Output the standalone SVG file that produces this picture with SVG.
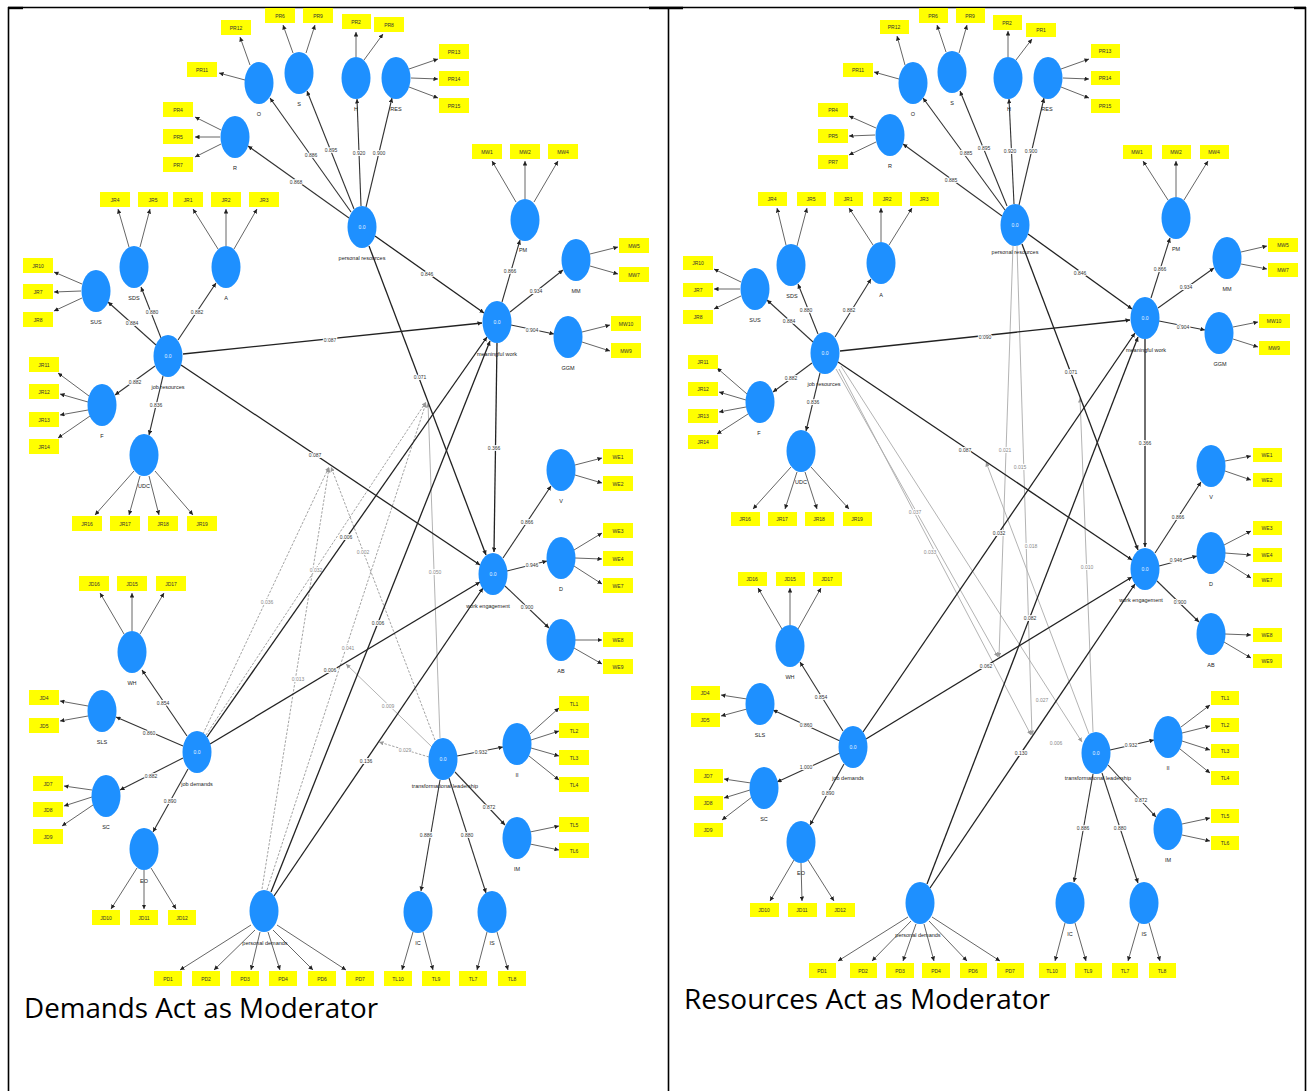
<svg xmlns="http://www.w3.org/2000/svg" width="1314" height="1091" viewBox="0 0 1314 1091">
<defs>
<marker id="a" viewBox="0 0 6 6" refX="6" refY="3" markerWidth="4.5" markerHeight="4.5" orient="auto" markerUnits="userSpaceOnUse"><path d="M0,0L6,3L0,6z" fill="#222"/></marker>
<marker id="g" viewBox="0 0 6 6" refX="6" refY="3" markerWidth="4.5" markerHeight="4.5" orient="auto" markerUnits="userSpaceOnUse"><path d="M0,0L6,3L0,6z" fill="#999"/></marker>
</defs>
<style>
.ib{fill:#ffff00}
.lv{fill:#1e90ff}
.tb{font-family:"Liberation Sans",Arial,sans-serif;font-size:5px;fill:#333;text-anchor:middle}
.tn{font-family:"Liberation Sans",Arial,sans-serif;font-size:5.5px;fill:#222;text-anchor:middle}
.tw{font-family:"Liberation Sans",Arial,sans-serif;font-size:5px;fill:#e8f4ff;text-anchor:middle}
.ei{stroke:#666;stroke-width:1;marker-end:url(#a)}
.es{stroke:#333;stroke-width:1.1;marker-end:url(#a)}
.eb{stroke:#222;stroke-width:1.3;marker-end:url(#a)}
.em{stroke:#999;stroke-width:0.9;stroke-dasharray:2.5 1.5;marker-end:url(#g)}
.eg{stroke:#aaa;stroke-width:0.9;marker-end:url(#g)}
.lb{font-family:"Liberation Sans",Arial,sans-serif;font-size:5px;fill:#333;text-anchor:middle;stroke:#fff;stroke-width:2;paint-order:stroke}
.lg{font-family:"Liberation Sans",Arial,sans-serif;font-size:5px;fill:#8a8a8a;text-anchor:middle;stroke:#fff;stroke-width:2;paint-order:stroke}
.cap{font-family:"Open Sans","Liberation Sans",sans-serif;font-size:27px;fill:#000}
.bd{stroke:#000;stroke-width:1.6;fill:none}
</style>
<rect width="1314" height="1091" fill="#fff"/>
<g id="table">
<line class="bd" x1="8" y1="7.5" x2="1306" y2="7.5"/>
<line class="bd" x1="8.5" y1="7" x2="8.5" y2="1091"/>
<line class="bd" x1="668.5" y1="7" x2="668.5" y2="1091"/>
<line class="bd" x1="1305.5" y1="7" x2="1305.5" y2="1091"/>
<line stroke="#000" stroke-width="2.4" x1="649" y1="8" x2="683" y2="8"/>
<line stroke="#000" stroke-width="2.4" x1="8" y1="8" x2="23" y2="8"/>
<line stroke="#000" stroke-width="2.4" x1="1294" y1="8" x2="1306" y2="8"/>
</g>
<text class="cap" x="24" y="1018" textLength="354" lengthAdjust="spacingAndGlyphs">Demands Act as Moderator</text>
<text class="cap" x="684" y="1009" textLength="366" lengthAdjust="spacingAndGlyphs">Resources Act as Moderator</text>

<!-- ================= LEFT PANEL CONNECTORS ================= -->
<g id="left-connectors">
<!-- moderation (grey) -->
<line class="em" x1="203" y1="734" x2="329" y2="467"/>
<line class="em" x1="262" y1="889" x2="329" y2="468"/>
<line class="em" x1="206" y1="735" x2="426" y2="402"/>
<line class="em" x1="267" y1="890" x2="426" y2="403"/>
<line class="em" x1="435" y1="740" x2="331" y2="467"/>
<line class="eg" x1="440" y1="738" x2="428" y2="403"/>
<line class="eg" x1="432" y1="747" x2="346" y2="664"/>
<line class="em" x1="429" y1="757" x2="379" y2="742"/>
<text class="lg" x="267" y="604">0.036</text>
<text class="lg" x="298" y="681">0.013</text>
<text class="lg" x="316" y="572">0.032</text>
<text class="lg" x="348" y="650">0.041</text>
<text class="lg" x="363" y="554">0.002</text>
<text class="lg" x="435" y="574">0.050</text>
<text class="lg" x="388" y="708">0.009</text>
<text class="lg" x="405" y="752">0.029</text>
<!-- structural -->
<line class="eb" x1="375" y1="236" x2="484" y2="313"/>
<line class="eb" x1="369" y1="246" x2="486" y2="555"/>
<line class="eb" x1="183" y1="354" x2="482" y2="323"/>
<line class="eb" x1="181" y1="365" x2="480" y2="565"/>
<line class="eb" x1="497" y1="343" x2="494" y2="552"/>
<line class="eb" x1="207" y1="737" x2="487" y2="337"/>
<line class="eb" x1="210" y1="744" x2="480" y2="582"/>
<line class="eb" x1="271" y1="892" x2="490" y2="341"/>
<line class="eb" x1="274" y1="896" x2="483" y2="588"/>
<text class="lb" x="427" y="276">0.846</text>
<text class="lb" x="420" y="379">0.071</text>
<text class="lb" x="330" y="342">0.087</text>
<text class="lb" x="315" y="457">0.087</text>
<text class="lb" x="494" y="450">0.366</text>
<text class="lb" x="346" y="539">0.006</text>
<text class="lb" x="330" y="672">0.006</text>
<text class="lb" x="378" y="625">0.006</text>
<text class="lb" x="366" y="763">0.136</text>
<!-- personal resources -->
<line class="es" x1="349" y1="218" x2="248" y2="146"/>
<line class="es" x1="351" y1="212" x2="270" y2="98"/>
<line class="es" x1="354" y1="209" x2="307" y2="91"/>
<line class="es" x1="361" y1="206" x2="357" y2="99"/>
<line class="es" x1="366" y1="207" x2="392" y2="98"/>
<text class="lb" x="296" y="184">0.868</text>
<text class="lb" x="311" y="157">0.886</text>
<text class="lb" x="331" y="152">0.895</text>
<text class="lb" x="359" y="155">0.920</text>
<text class="lb" x="379" y="155">0.900</text>
<line class="ei" x1="221" y1="130" x2="195" y2="117"/>
<line class="ei" x1="220" y1="137" x2="195" y2="137"/>
<line class="ei" x1="221" y1="144" x2="195" y2="157"/>
<line class="ei" x1="245" y1="80" x2="219" y2="73"/>
<line class="ei" x1="250" y1="65" x2="240" y2="37"/>
<line class="ei" x1="293" y1="53" x2="283" y2="25"/>
<line class="ei" x1="306" y1="53" x2="315" y2="25"/>
<line class="ei" x1="356" y1="57" x2="356" y2="32"/>
<line class="ei" x1="364" y1="60" x2="383" y2="34"/>
<line class="ei" x1="409" y1="69" x2="438" y2="59"/>
<line class="ei" x1="411" y1="78" x2="438" y2="79"/>
<line class="ei" x1="409" y1="87" x2="438" y2="98"/>
<!-- meaningful work -->
<line class="es" x1="502" y1="302" x2="520" y2="240"/>
<line class="es" x1="510" y1="312" x2="563" y2="270"/>
<line class="es" x1="511" y1="325" x2="554" y2="334"/>
<text class="lb" x="510" y="273">0.866</text>
<text class="lb" x="536" y="293">0.934</text>
<text class="lb" x="532" y="332">0.904</text>
<line class="ei" x1="516" y1="202" x2="492" y2="161"/>
<line class="ei" x1="525" y1="199" x2="525" y2="161"/>
<line class="ei" x1="534" y1="202" x2="558" y2="161"/>
<line class="ei" x1="590" y1="254" x2="618" y2="247"/>
<line class="ei" x1="590" y1="266" x2="618" y2="274"/>
<line class="ei" x1="582" y1="332" x2="610" y2="325"/>
<line class="ei" x1="582" y1="342" x2="610" y2="351"/>
<!-- work engagement -->
<line class="es" x1="503" y1="558" x2="551" y2="486"/>
<line class="es" x1="507" y1="571" x2="547" y2="561"/>
<line class="es" x1="505" y1="586" x2="549" y2="628"/>
<text class="lb" x="527" y="524">0.866</text>
<text class="lb" x="532" y="567">0.946</text>
<text class="lb" x="527" y="609">0.900</text>
<line class="ei" x1="575" y1="465" x2="602" y2="458"/>
<line class="ei" x1="575" y1="475" x2="602" y2="483"/>
<line class="ei" x1="574" y1="550" x2="602" y2="533"/>
<line class="ei" x1="575" y1="558" x2="602" y2="559"/>
<line class="ei" x1="574" y1="566" x2="602" y2="584"/>
<line class="ei" x1="575" y1="640" x2="602" y2="640"/>
<line class="ei" x1="574" y1="648" x2="602" y2="664"/>
<!-- job resources -->
<line class="es" x1="156" y1="345" x2="108" y2="302"/>
<line class="es" x1="161" y1="338" x2="141" y2="287"/>
<line class="es" x1="178" y1="340" x2="216" y2="283"/>
<line class="es" x1="155" y1="366" x2="115" y2="395"/>
<line class="es" x1="163" y1="376" x2="149" y2="435"/>
<text class="lb" x="132" y="325">0.884</text>
<text class="lb" x="152" y="314">0.880</text>
<text class="lb" x="197" y="314">0.882</text>
<text class="lb" x="135" y="384">0.882</text>
<text class="lb" x="156" y="407">0.836</text>
<line class="ei" x1="82" y1="284" x2="54" y2="272"/>
<line class="ei" x1="81" y1="291" x2="54" y2="292"/>
<line class="ei" x1="82" y1="298" x2="54" y2="311"/>
<line class="ei" x1="129" y1="247" x2="118" y2="209"/>
<line class="ei" x1="140" y1="247" x2="150" y2="209"/>
<line class="ei" x1="218" y1="249" x2="193" y2="209"/>
<line class="ei" x1="226" y1="246" x2="226" y2="209"/>
<line class="ei" x1="234" y1="249" x2="257" y2="209"/>
<line class="ei" x1="89" y1="396" x2="58" y2="373"/>
<line class="ei" x1="88" y1="402" x2="60" y2="394"/>
<line class="ei" x1="88" y1="410" x2="60" y2="415"/>
<line class="ei" x1="90" y1="416" x2="58" y2="438"/>
<line class="ei" x1="134" y1="471" x2="95" y2="515"/>
<line class="ei" x1="140" y1="476" x2="129" y2="515"/>
<line class="ei" x1="149" y1="476" x2="159" y2="515"/>
<line class="ei" x1="155" y1="471" x2="193" y2="515"/>
<!-- job demands -->
<line class="es" x1="187" y1="736" x2="142" y2="670"/>
<line class="es" x1="183" y1="746" x2="116" y2="717"/>
<line class="es" x1="183" y1="758" x2="120" y2="790"/>
<line class="es" x1="188" y1="769" x2="153" y2="832"/>
<text class="lb" x="163" y="705">0.854</text>
<text class="lb" x="149" y="735">0.860</text>
<text class="lb" x="151" y="778">0.882</text>
<text class="lb" x="170" y="803">0.890</text>
<line class="ei" x1="124" y1="634" x2="100" y2="593"/>
<line class="ei" x1="132" y1="631" x2="132" y2="593"/>
<line class="ei" x1="140" y1="634" x2="164" y2="593"/>
<line class="ei" x1="88" y1="706" x2="60" y2="701"/>
<line class="ei" x1="88" y1="716" x2="60" y2="721"/>
<line class="ei" x1="92" y1="790" x2="64" y2="786"/>
<line class="ei" x1="92" y1="797" x2="64" y2="806"/>
<line class="ei" x1="93" y1="805" x2="62" y2="826"/>
<line class="ei" x1="137" y1="868" x2="111" y2="909"/>
<line class="ei" x1="144" y1="870" x2="144" y2="909"/>
<line class="ei" x1="151" y1="868" x2="176" y2="909"/>
<!-- personal demands -->
<line class="ei" x1="251" y1="925" x2="180" y2="970"/>
<line class="ei" x1="255" y1="930" x2="214" y2="970"/>
<line class="ei" x1="260" y1="932" x2="251" y2="970"/>
<line class="ei" x1="268" y1="932" x2="280" y2="970"/>
<line class="ei" x1="273" y1="930" x2="313" y2="970"/>
<line class="ei" x1="277" y1="925" x2="346" y2="970"/>
<!-- transformational leadership -->
<line class="es" x1="457" y1="756" x2="503" y2="747"/>
<line class="es" x1="455" y1="772" x2="505" y2="825"/>
<line class="es" x1="440" y1="780" x2="421" y2="891"/>
<line class="es" x1="449" y1="778" x2="486" y2="893"/>
<text class="lb" x="481" y="754">0.932</text>
<text class="lb" x="489" y="809">0.872</text>
<text class="lb" x="426" y="837">0.886</text>
<text class="lb" x="467" y="837">0.880</text>
<line class="ei" x1="530" y1="734" x2="559" y2="708"/>
<line class="ei" x1="531" y1="740" x2="559" y2="731"/>
<line class="ei" x1="531" y1="748" x2="559" y2="756"/>
<line class="ei" x1="529" y1="756" x2="559" y2="780"/>
<line class="ei" x1="530" y1="832" x2="559" y2="826"/>
<line class="ei" x1="530" y1="844" x2="559" y2="850"/>
<line class="ei" x1="413" y1="932" x2="402" y2="970"/>
<line class="ei" x1="423" y1="932" x2="433" y2="970"/>
<line class="ei" x1="487" y1="932" x2="477" y2="970"/>
<line class="ei" x1="497" y1="932" x2="508" y2="970"/>
</g>

<!-- ================= LEFT PANEL NODES ================= -->
<g id="L-personal-resources"><ellipse class="lv" cx="362" cy="227" rx="14.5" ry="21"/><text class="tw" x="362" y="229">0.0</text><text class="tn" x="362" y="260">personal resources</text></g>
<g id="L-R"><ellipse class="lv" cx="235" cy="137" rx="14.5" ry="21"/><text class="tn" x="235" y="170">R</text></g>
<g id="L-O"><ellipse class="lv" cx="259" cy="83" rx="14.5" ry="21"/><text class="tn" x="259" y="116">O</text></g>
<g id="L-S"><ellipse class="lv" cx="299" cy="73" rx="14.5" ry="21"/><text class="tn" x="299" y="106">S</text></g>
<g id="L-H"><ellipse class="lv" cx="356" cy="78" rx="14.5" ry="21"/><text class="tn" x="356" y="111">H</text></g>
<g id="L-RES"><ellipse class="lv" cx="396" cy="78" rx="14.5" ry="21"/><text class="tn" x="396" y="111">RES</text></g>
<g id="L-meaningful-work"><ellipse class="lv" cx="497" cy="322" rx="14.5" ry="21"/><text class="tw" x="497" y="324">0.0</text><text class="tn" x="497" y="356">meaningful work</text></g>
<g id="L-PM"><ellipse class="lv" cx="525" cy="220" rx="14.5" ry="21"/><text class="tn" x="523" y="252">PM</text></g>
<g id="L-MM"><ellipse class="lv" cx="576" cy="260" rx="14.5" ry="21"/><text class="tn" x="576" y="293">MM</text></g>
<g id="L-GGM"><ellipse class="lv" cx="568" cy="337" rx="14.5" ry="21"/><text class="tn" x="568" y="370">GGM</text></g>
<g id="L-work-engagement"><ellipse class="lv" cx="493" cy="574" rx="14.5" ry="21"/><text class="tw" x="493" y="576">0.0</text><text class="tn" x="488" y="608">work engagement</text></g>
<g id="L-V"><ellipse class="lv" cx="561" cy="470" rx="14.5" ry="21"/><text class="tn" x="561" y="503">V</text></g>
<g id="L-D"><ellipse class="lv" cx="561" cy="558" rx="14.5" ry="21"/><text class="tn" x="561" y="591">D</text></g>
<g id="L-AB"><ellipse class="lv" cx="561" cy="640" rx="14.5" ry="21"/><text class="tn" x="561" y="673">AB</text></g>
<g id="L-job-resources"><ellipse class="lv" cx="168" cy="356" rx="14.5" ry="21"/><text class="tw" x="168" y="358">0.0</text><text class="tn" x="168" y="389">job resources</text></g>
<g id="L-SUS"><ellipse class="lv" cx="96" cy="291" rx="14.5" ry="21"/><text class="tn" x="96" y="324">SUS</text></g>
<g id="L-SDS"><ellipse class="lv" cx="134" cy="267" rx="14.5" ry="21"/><text class="tn" x="134" y="300">SDS</text></g>
<g id="L-A"><ellipse class="lv" cx="226" cy="267" rx="14.5" ry="21"/><text class="tn" x="226" y="300">A</text></g>
<g id="L-F"><ellipse class="lv" cx="102" cy="405" rx="14.5" ry="21"/><text class="tn" x="102" y="438">F</text></g>
<g id="L-UDC"><ellipse class="lv" cx="144" cy="455" rx="14.5" ry="21"/><text class="tn" x="144" y="488">UDC</text></g>
<g id="L-job-demands"><ellipse class="lv" cx="197" cy="752" rx="14.5" ry="21"/><text class="tw" x="197" y="754">0.0</text><text class="tn" x="197" y="786">job demands</text></g>
<g id="L-WH"><ellipse class="lv" cx="132" cy="652" rx="14.5" ry="21"/><text class="tn" x="132" y="685">WH</text></g>
<g id="L-SLS"><ellipse class="lv" cx="102" cy="711" rx="14.5" ry="21"/><text class="tn" x="102" y="744">SLS</text></g>
<g id="L-SC"><ellipse class="lv" cx="106" cy="796" rx="14.5" ry="21"/><text class="tn" x="106" y="829">SC</text></g>
<g id="L-EO"><ellipse class="lv" cx="144" cy="849" rx="14.5" ry="21"/><text class="tn" x="144" y="883">EO</text></g>
<g id="L-personal-demands"><ellipse class="lv" cx="264" cy="911" rx="14.5" ry="21"/><text class="tn" x="265" y="945">personal demands</text></g>
<g id="L-transformational-leadership"><ellipse class="lv" cx="443" cy="759" rx="14.5" ry="21"/><text class="tw" x="443" y="761">0.0</text><text class="tn" x="445" y="788">transformational leadership</text></g>
<g id="L-II"><ellipse class="lv" cx="517" cy="744" rx="14.5" ry="21"/><text class="tn" x="517" y="777">II</text></g>
<g id="L-IM"><ellipse class="lv" cx="517" cy="838" rx="14.5" ry="21"/><text class="tn" x="517" y="871">IM</text></g>
<g id="L-IC"><ellipse class="lv" cx="418" cy="912" rx="14.5" ry="21"/><text class="tn" x="418" y="945">IC</text></g>
<g id="L-IS"><ellipse class="lv" cx="492" cy="912" rx="14.5" ry="21"/><text class="tn" x="492" y="945">IS</text></g>

<!-- left indicators -->
<g id="L-PR4"><rect class="ib" x="163" y="102" width="30" height="15"/><text class="tb" x="178" y="111.5">PR4</text></g>
<g id="L-PR5"><rect class="ib" x="163" y="129" width="30" height="15"/><text class="tb" x="178" y="138.5">PR5</text></g>
<g id="L-PR7"><rect class="ib" x="163" y="157" width="30" height="15"/><text class="tb" x="178" y="166.5">PR7</text></g>
<g id="L-PR11"><rect class="ib" x="187" y="62" width="30" height="15"/><text class="tb" x="202" y="71.5">PR11</text></g>
<g id="L-PR12"><rect class="ib" x="221" y="20" width="30" height="15"/><text class="tb" x="236" y="29.5">PR12</text></g>
<g id="L-PR6"><rect class="ib" x="265" y="8" width="30" height="15"/><text class="tb" x="280" y="17.5">PR6</text></g>
<g id="L-PR9"><rect class="ib" x="303" y="8" width="30" height="15"/><text class="tb" x="318" y="17.5">PR9</text></g>
<g id="L-PR2"><rect class="ib" x="342" y="14" width="29" height="15"/><text class="tb" x="356" y="23.5">PR2</text></g>
<g id="L-PR8"><rect class="ib" x="374" y="17" width="30" height="15"/><text class="tb" x="389" y="26.5">PR8</text></g>
<g id="L-PR13"><rect class="ib" x="439" y="44" width="30" height="15"/><text class="tb" x="454" y="53.5">PR13</text></g>
<g id="L-PR14"><rect class="ib" x="439" y="71" width="30" height="15"/><text class="tb" x="454" y="80.5">PR14</text></g>
<g id="L-PR15"><rect class="ib" x="439" y="98" width="30" height="15"/><text class="tb" x="454" y="107.5">PR15</text></g>
<g id="L-MW1"><rect class="ib" x="472" y="144" width="30" height="15"/><text class="tb" x="487" y="153.5">MW1</text></g>
<g id="L-MW2"><rect class="ib" x="510" y="144" width="30" height="15"/><text class="tb" x="525" y="153.5">MW2</text></g>
<g id="L-MW4"><rect class="ib" x="548" y="144" width="30" height="15"/><text class="tb" x="563" y="153.5">MW4</text></g>
<g id="L-MW5"><rect class="ib" x="619" y="238" width="30" height="15"/><text class="tb" x="634" y="247.5">MW5</text></g>
<g id="L-MW7"><rect class="ib" x="619" y="267" width="30" height="15"/><text class="tb" x="634" y="276.5">MW7</text></g>
<g id="L-MW10"><rect class="ib" x="611" y="316" width="30" height="15"/><text class="tb" x="626" y="325.5">MW10</text></g>
<g id="L-MW9"><rect class="ib" x="611" y="343" width="30" height="15"/><text class="tb" x="626" y="352.5">MW9</text></g>
<g id="L-WE1"><rect class="ib" x="603" y="449" width="30" height="15"/><text class="tb" x="618" y="458.5">WE1</text></g>
<g id="L-WE2"><rect class="ib" x="603" y="476" width="30" height="15"/><text class="tb" x="618" y="485.5">WE2</text></g>
<g id="L-WE3"><rect class="ib" x="603" y="523" width="30" height="15"/><text class="tb" x="618" y="532.5">WE3</text></g>
<g id="L-WE4"><rect class="ib" x="603" y="551" width="30" height="15"/><text class="tb" x="618" y="560.5">WE4</text></g>
<g id="L-WE7"><rect class="ib" x="603" y="578" width="30" height="15"/><text class="tb" x="618" y="587.5">WE7</text></g>
<g id="L-WE8"><rect class="ib" x="603" y="632" width="30" height="15"/><text class="tb" x="618" y="641.5">WE8</text></g>
<g id="L-WE9"><rect class="ib" x="603" y="659" width="30" height="15"/><text class="tb" x="618" y="668.5">WE9</text></g>
<g id="L-JR10"><rect class="ib" x="23" y="258" width="30" height="15"/><text class="tb" x="38" y="267.5">JR10</text></g>
<g id="L-JR7"><rect class="ib" x="23" y="284" width="30" height="15"/><text class="tb" x="38" y="293.5">JR7</text></g>
<g id="L-JR8"><rect class="ib" x="23" y="312" width="30" height="15"/><text class="tb" x="38" y="321.5">JR8</text></g>
<g id="L-JR4"><rect class="ib" x="100" y="192" width="30" height="15"/><text class="tb" x="115" y="201.5">JR4</text></g>
<g id="L-JR5"><rect class="ib" x="138" y="192" width="30" height="15"/><text class="tb" x="153" y="201.5">JR5</text></g>
<g id="L-JR1"><rect class="ib" x="173" y="192" width="30" height="15"/><text class="tb" x="188" y="201.5">JR1</text></g>
<g id="L-JR2"><rect class="ib" x="211" y="192" width="30" height="15"/><text class="tb" x="226" y="201.5">JR2</text></g>
<g id="L-JR3"><rect class="ib" x="249" y="192" width="30" height="15"/><text class="tb" x="264" y="201.5">JR3</text></g>
<g id="L-JR11"><rect class="ib" x="29" y="357" width="30" height="15"/><text class="tb" x="44" y="366.5">JR11</text></g>
<g id="L-JR12"><rect class="ib" x="29" y="384" width="30" height="15"/><text class="tb" x="44" y="393.5">JR12</text></g>
<g id="L-JR13"><rect class="ib" x="29" y="412" width="30" height="15"/><text class="tb" x="44" y="421.5">JR13</text></g>
<g id="L-JR14"><rect class="ib" x="29" y="439" width="30" height="15"/><text class="tb" x="44" y="448.5">JR14</text></g>
<g id="L-JR16"><rect class="ib" x="72" y="516" width="30" height="15"/><text class="tb" x="87" y="525.5">JR16</text></g>
<g id="L-JR17"><rect class="ib" x="110" y="516" width="30" height="15"/><text class="tb" x="125" y="525.5">JR17</text></g>
<g id="L-JR18"><rect class="ib" x="148" y="516" width="30" height="15"/><text class="tb" x="163" y="525.5">JR18</text></g>
<g id="L-JR19"><rect class="ib" x="187" y="516" width="30" height="15"/><text class="tb" x="202" y="525.5">JR19</text></g>
<g id="L-JD16"><rect class="ib" x="79" y="576" width="30" height="15"/><text class="tb" x="94" y="585.5">JD16</text></g>
<g id="L-JD15"><rect class="ib" x="117" y="576" width="30" height="15"/><text class="tb" x="132" y="585.5">JD15</text></g>
<g id="L-JD17"><rect class="ib" x="156" y="576" width="30" height="15"/><text class="tb" x="171" y="585.5">JD17</text></g>
<g id="L-JD4"><rect class="ib" x="29" y="690" width="30" height="15"/><text class="tb" x="44" y="699.5">JD4</text></g>
<g id="L-JD5"><rect class="ib" x="29" y="718" width="30" height="15"/><text class="tb" x="44" y="727.5">JD5</text></g>
<g id="L-JD7"><rect class="ib" x="33" y="776" width="30" height="15"/><text class="tb" x="48" y="785.5">JD7</text></g>
<g id="L-JD8"><rect class="ib" x="33" y="802" width="30" height="15"/><text class="tb" x="48" y="811.5">JD8</text></g>
<g id="L-JD9"><rect class="ib" x="33" y="829" width="30" height="15"/><text class="tb" x="48" y="838.5">JD9</text></g>
<g id="L-JD10"><rect class="ib" x="92" y="910" width="28" height="15"/><text class="tb" x="106" y="919.5">JD10</text></g>
<g id="L-JD11"><rect class="ib" x="130" y="910" width="28" height="15"/><text class="tb" x="144" y="919.5">JD11</text></g>
<g id="L-JD12"><rect class="ib" x="168" y="910" width="28" height="15"/><text class="tb" x="182" y="919.5">JD12</text></g>
<g id="L-PD1"><rect class="ib" x="154" y="971" width="28" height="15"/><text class="tb" x="168" y="980.5">PD1</text></g>
<g id="L-PD2"><rect class="ib" x="192" y="971" width="28" height="15"/><text class="tb" x="206" y="980.5">PD2</text></g>
<g id="L-PD3"><rect class="ib" x="231" y="971" width="28" height="15"/><text class="tb" x="245" y="980.5">PD3</text></g>
<g id="L-PD4"><rect class="ib" x="269" y="971" width="28" height="15"/><text class="tb" x="283" y="980.5">PD4</text></g>
<g id="L-PD6"><rect class="ib" x="308" y="971" width="28" height="15"/><text class="tb" x="322" y="980.5">PD6</text></g>
<g id="L-PD7"><rect class="ib" x="346" y="971" width="28" height="15"/><text class="tb" x="360" y="980.5">PD7</text></g>
<g id="L-TL10"><rect class="ib" x="384" y="971" width="28" height="15"/><text class="tb" x="398" y="980.5">TL10</text></g>
<g id="L-TL9"><rect class="ib" x="422" y="971" width="28" height="15"/><text class="tb" x="436" y="980.5">TL9</text></g>
<g id="L-TL7"><rect class="ib" x="459" y="971" width="28" height="15"/><text class="tb" x="473" y="980.5">TL7</text></g>
<g id="L-TL8"><rect class="ib" x="498" y="971" width="28" height="15"/><text class="tb" x="512" y="980.5">TL8</text></g>
<g id="L-TL1"><rect class="ib" x="559" y="696" width="30" height="15"/><text class="tb" x="574" y="705.5">TL1</text></g>
<g id="L-TL2"><rect class="ib" x="559" y="723" width="30" height="15"/><text class="tb" x="574" y="732.5">TL2</text></g>
<g id="L-TL3"><rect class="ib" x="559" y="750" width="30" height="15"/><text class="tb" x="574" y="759.5">TL3</text></g>
<g id="L-TL4"><rect class="ib" x="559" y="777" width="30" height="15"/><text class="tb" x="574" y="786.5">TL4</text></g>
<g id="L-TL5"><rect class="ib" x="559" y="817" width="30" height="15"/><text class="tb" x="574" y="826.5">TL5</text></g>
<g id="L-TL6"><rect class="ib" x="559" y="843" width="30" height="15"/><text class="tb" x="574" y="852.5">TL6</text></g>

<!-- ================= RIGHT PANEL CONNECTORS ================= -->
<g id="right-connectors">
<!-- moderation (grey) -->
<line class="eg" x1="1013" y1="246" x2="999" y2="657"/>
<line class="eg" x1="1017" y1="246" x2="1032" y2="735"/>
<line class="eg" x1="836" y1="369" x2="998" y2="657"/>
<line class="eg" x1="839" y1="369" x2="1031" y2="735"/>
<line class="eg" x1="841" y1="366" x2="1082" y2="742"/>
<line class="eg" x1="1089" y1="734" x2="986" y2="462"/>
<line class="eg" x1="1093" y1="732" x2="1080" y2="398"/>
<text class="lg" x="1005" y="452">0.021</text>
<text class="lg" x="1020" y="469">0.015</text>
<text class="lg" x="915" y="514">0.037</text>
<text class="lg" x="930" y="554">0.033</text>
<text class="lg" x="1087" y="569">0.010</text>
<text class="lg" x="1042" y="702">0.027</text>
<text class="lg" x="1056" y="745">0.006</text>
<text class="lg" x="1031" y="548">0.018</text>
<!-- structural -->
<line class="eb" x1="1028" y1="234" x2="1132" y2="309"/>
<line class="eb" x1="1022" y1="244" x2="1138" y2="550"/>
<line class="eb" x1="840" y1="351" x2="1130" y2="320"/>
<line class="eb" x1="838" y1="362" x2="1132" y2="560"/>
<line class="eb" x1="1145" y1="339" x2="1145" y2="547"/>
<line class="eb" x1="863" y1="732" x2="1135" y2="333"/>
<line class="eb" x1="866" y1="739" x2="1132" y2="577"/>
<line class="eb" x1="927" y1="884" x2="1138" y2="337"/>
<line class="eb" x1="930" y1="888" x2="1135" y2="584"/>
<text class="lb" x="1080" y="275">0.846</text>
<text class="lb" x="1071" y="374">0.071</text>
<text class="lb" x="985" y="339">0.090</text>
<text class="lb" x="965" y="452">0.087</text>
<text class="lb" x="1145" y="445">0.366</text>
<text class="lb" x="999" y="535">0.032</text>
<text class="lb" x="986" y="668">0.062</text>
<text class="lb" x="1030" y="620">0.082</text>
<text class="lb" x="1021" y="755">0.130</text>
<!-- personal resources -->
<line class="es" x1="1002" y1="216" x2="903" y2="144"/>
<line class="es" x1="1005" y1="210" x2="923" y2="98"/>
<line class="es" x1="1007" y1="206" x2="960" y2="91"/>
<line class="es" x1="1014" y1="204" x2="1009" y2="99"/>
<line class="es" x1="1019" y1="205" x2="1044" y2="98"/>
<text class="lb" x="951" y="182">0.885</text>
<text class="lb" x="966" y="155">0.885</text>
<text class="lb" x="984" y="150">0.895</text>
<text class="lb" x="1010" y="153">0.920</text>
<text class="lb" x="1031" y="153">0.900</text>
<line class="ei" x1="876" y1="128" x2="849" y2="116"/>
<line class="ei" x1="875" y1="135" x2="849" y2="136"/>
<line class="ei" x1="876" y1="142" x2="849" y2="155"/>
<line class="ei" x1="899" y1="79" x2="874" y2="72"/>
<line class="ei" x1="905" y1="65" x2="897" y2="36"/>
<line class="ei" x1="946" y1="52" x2="937" y2="25"/>
<line class="ei" x1="959" y1="53" x2="967" y2="25"/>
<line class="ei" x1="1008" y1="57" x2="1008" y2="31"/>
<line class="ei" x1="1016" y1="60" x2="1032" y2="39"/>
<line class="ei" x1="1061" y1="69" x2="1089" y2="59"/>
<line class="ei" x1="1063" y1="78" x2="1089" y2="79"/>
<line class="ei" x1="1061" y1="87" x2="1089" y2="98"/>
<!-- meaningful work -->
<line class="es" x1="1151" y1="298" x2="1170" y2="238"/>
<line class="es" x1="1158" y1="308" x2="1214" y2="268"/>
<line class="es" x1="1159" y1="321" x2="1205" y2="330"/>
<text class="lb" x="1160" y="271">0.866</text>
<text class="lb" x="1186" y="289">0.934</text>
<text class="lb" x="1183" y="329">0.904</text>
<line class="ei" x1="1168" y1="200" x2="1143" y2="161"/>
<line class="ei" x1="1176" y1="197" x2="1176" y2="161"/>
<line class="ei" x1="1184" y1="200" x2="1208" y2="161"/>
<line class="ei" x1="1241" y1="252" x2="1267" y2="246"/>
<line class="ei" x1="1241" y1="264" x2="1267" y2="269"/>
<line class="ei" x1="1233" y1="327" x2="1258" y2="322"/>
<line class="ei" x1="1233" y1="339" x2="1258" y2="347"/>
<!-- work engagement -->
<line class="es" x1="1155" y1="553" x2="1201" y2="482"/>
<line class="es" x1="1159" y1="566" x2="1197" y2="556"/>
<line class="es" x1="1157" y1="581" x2="1199" y2="622"/>
<text class="lb" x="1178" y="519">0.866</text>
<text class="lb" x="1176" y="562">0.946</text>
<text class="lb" x="1180" y="604">0.900</text>
<line class="ei" x1="1225" y1="461" x2="1251" y2="456"/>
<line class="ei" x1="1225" y1="471" x2="1251" y2="480"/>
<line class="ei" x1="1224" y1="545" x2="1251" y2="531"/>
<line class="ei" x1="1225" y1="553" x2="1251" y2="555"/>
<line class="ei" x1="1224" y1="561" x2="1251" y2="578"/>
<line class="ei" x1="1225" y1="634" x2="1251" y2="635"/>
<line class="ei" x1="1224" y1="642" x2="1251" y2="658"/>
<!-- job resources -->
<line class="es" x1="813" y1="342" x2="767" y2="300"/>
<line class="es" x1="818" y1="334" x2="798" y2="284"/>
<line class="es" x1="835" y1="337" x2="871" y2="279"/>
<line class="es" x1="812" y1="363" x2="773" y2="392"/>
<line class="es" x1="820" y1="373" x2="806" y2="431"/>
<text class="lb" x="789" y="323">0.884</text>
<text class="lb" x="806" y="312">0.880</text>
<text class="lb" x="849" y="312">0.882</text>
<text class="lb" x="791" y="380">0.882</text>
<text class="lb" x="813" y="404">0.836</text>
<line class="ei" x1="741" y1="282" x2="714" y2="269"/>
<line class="ei" x1="740" y1="289" x2="714" y2="289"/>
<line class="ei" x1="741" y1="296" x2="714" y2="309"/>
<line class="ei" x1="786" y1="245" x2="777" y2="208"/>
<line class="ei" x1="797" y1="246" x2="807" y2="208"/>
<line class="ei" x1="873" y1="245" x2="849" y2="208"/>
<line class="ei" x1="881" y1="242" x2="881" y2="208"/>
<line class="ei" x1="889" y1="245" x2="912" y2="208"/>
<line class="ei" x1="747" y1="394" x2="717" y2="368"/>
<line class="ei" x1="746" y1="400" x2="719" y2="392"/>
<line class="ei" x1="746" y1="407" x2="719" y2="412"/>
<line class="ei" x1="748" y1="414" x2="717" y2="434"/>
<line class="ei" x1="791" y1="467" x2="753" y2="509"/>
<line class="ei" x1="797" y1="472" x2="785" y2="509"/>
<line class="ei" x1="805" y1="472" x2="817" y2="509"/>
<line class="ei" x1="811" y1="467" x2="849" y2="509"/>
<!-- job demands -->
<line class="es" x1="843" y1="731" x2="800" y2="662"/>
<line class="es" x1="840" y1="741" x2="773" y2="710"/>
<line class="es" x1="840" y1="753" x2="777" y2="782"/>
<line class="es" x1="844" y1="764" x2="810" y2="825"/>
<text class="lb" x="821" y="699">0.854</text>
<text class="lb" x="806" y="727">0.860</text>
<text class="lb" x="806" y="769">1.000</text>
<text class="lb" x="828" y="795">0.890</text>
<line class="ei" x1="782" y1="629" x2="758" y2="588"/>
<line class="ei" x1="790" y1="625" x2="790" y2="588"/>
<line class="ei" x1="798" y1="629" x2="821" y2="588"/>
<line class="ei" x1="747" y1="699" x2="721" y2="695"/>
<line class="ei" x1="747" y1="709" x2="721" y2="716"/>
<line class="ei" x1="751" y1="783" x2="724" y2="779"/>
<line class="ei" x1="750" y1="790" x2="724" y2="798"/>
<line class="ei" x1="752" y1="797" x2="722" y2="820"/>
<line class="ei" x1="794" y1="860" x2="770" y2="901"/>
<line class="ei" x1="801" y1="863" x2="802" y2="901"/>
<line class="ei" x1="808" y1="860" x2="834" y2="901"/>
<!-- personal demands -->
<line class="ei" x1="908" y1="917" x2="838" y2="961"/>
<line class="ei" x1="911" y1="921" x2="872" y2="961"/>
<line class="ei" x1="916" y1="924" x2="903" y2="961"/>
<line class="ei" x1="924" y1="924" x2="934" y2="961"/>
<line class="ei" x1="929" y1="921" x2="967" y2="961"/>
<line class="ei" x1="932" y1="917" x2="1000" y2="961"/>
<!-- transformational leadership -->
<line class="es" x1="1110" y1="750" x2="1154" y2="740"/>
<line class="es" x1="1108" y1="765" x2="1156" y2="817"/>
<line class="es" x1="1093" y1="774" x2="1074" y2="882"/>
<line class="es" x1="1102" y1="773" x2="1138" y2="883"/>
<text class="lb" x="1131" y="747">0.932</text>
<text class="lb" x="1141" y="802">0.872</text>
<text class="lb" x="1083" y="830">0.886</text>
<text class="lb" x="1120" y="830">0.880</text>
<line class="ei" x1="1181" y1="727" x2="1210" y2="705"/>
<line class="ei" x1="1182" y1="733" x2="1210" y2="726"/>
<line class="ei" x1="1182" y1="741" x2="1210" y2="750"/>
<line class="ei" x1="1180" y1="749" x2="1210" y2="773"/>
<line class="ei" x1="1182" y1="824" x2="1210" y2="818"/>
<line class="ei" x1="1182" y1="835" x2="1210" y2="841"/>
<line class="ei" x1="1065" y1="923" x2="1055" y2="961"/>
<line class="ei" x1="1075" y1="923" x2="1086" y2="961"/>
<line class="ei" x1="1139" y1="923" x2="1128" y2="961"/>
<line class="ei" x1="1149" y1="923" x2="1160" y2="961"/>
</g>

<!-- ================= RIGHT PANEL NODES ================= -->
<g id="R-personal-resources"><ellipse class="lv" cx="1015" cy="225" rx="14.5" ry="21"/><text class="tw" x="1015" y="227">0.0</text><text class="tn" x="1015" y="254">personal resources</text></g>
<g id="R-R"><ellipse class="lv" cx="890" cy="135" rx="14.5" ry="21"/><text class="tn" x="890" y="168">R</text></g>
<g id="R-O"><ellipse class="lv" cx="913" cy="83" rx="14.5" ry="21"/><text class="tn" x="913" y="116">O</text></g>
<g id="R-S"><ellipse class="lv" cx="952" cy="72" rx="14.5" ry="21"/><text class="tn" x="952" y="105">S</text></g>
<g id="R-H"><ellipse class="lv" cx="1008" cy="78" rx="14.5" ry="21"/><text class="tn" x="1009" y="111">H</text></g>
<g id="R-RES"><ellipse class="lv" cx="1048" cy="78" rx="14.5" ry="21"/><text class="tn" x="1047" y="111">RES</text></g>
<g id="R-meaningful-work"><ellipse class="lv" cx="1145" cy="318" rx="14.5" ry="21"/><text class="tw" x="1145" y="320">0.0</text><text class="tn" x="1146" y="352">meaningful work</text></g>
<g id="R-PM"><ellipse class="lv" cx="1176" cy="218" rx="14.5" ry="21"/><text class="tn" x="1176" y="251">PM</text></g>
<g id="R-MM"><ellipse class="lv" cx="1227" cy="258" rx="14.5" ry="21"/><text class="tn" x="1227" y="291">MM</text></g>
<g id="R-GGM"><ellipse class="lv" cx="1219" cy="333" rx="14.5" ry="21"/><text class="tn" x="1220" y="366">GGM</text></g>
<g id="R-work-engagement"><ellipse class="lv" cx="1145" cy="569" rx="14.5" ry="21"/><text class="tw" x="1145" y="571">0.0</text><text class="tn" x="1141" y="602">work engagement</text></g>
<g id="R-V"><ellipse class="lv" cx="1211" cy="466" rx="14.5" ry="21"/><text class="tn" x="1211" y="499">V</text></g>
<g id="R-D"><ellipse class="lv" cx="1211" cy="553" rx="14.5" ry="21"/><text class="tn" x="1211" y="586">D</text></g>
<g id="R-AB"><ellipse class="lv" cx="1211" cy="634" rx="14.5" ry="21"/><text class="tn" x="1211" y="667">AB</text></g>
<g id="R-job-resources"><ellipse class="lv" cx="825" cy="353" rx="14.5" ry="21"/><text class="tw" x="825" y="355">0.0</text><text class="tn" x="824" y="386">job resources</text></g>
<g id="R-SUS"><ellipse class="lv" cx="755" cy="289" rx="14.5" ry="21"/><text class="tn" x="755" y="322">SUS</text></g>
<g id="R-SDS"><ellipse class="lv" cx="791" cy="265" rx="14.5" ry="21"/><text class="tn" x="792" y="298">SDS</text></g>
<g id="R-A"><ellipse class="lv" cx="881" cy="263" rx="14.5" ry="21"/><text class="tn" x="881" y="297">A</text></g>
<g id="R-F"><ellipse class="lv" cx="760" cy="402" rx="14.5" ry="21"/><text class="tn" x="759" y="435">F</text></g>
<g id="R-UDC"><ellipse class="lv" cx="801" cy="451" rx="14.5" ry="21"/><text class="tn" x="801" y="484">UDC</text></g>
<g id="R-job-demands"><ellipse class="lv" cx="853" cy="747" rx="14.5" ry="21"/><text class="tw" x="853" y="749">0.0</text><text class="tn" x="848" y="780">job demands</text></g>
<g id="R-WH"><ellipse class="lv" cx="790" cy="646" rx="14.5" ry="21"/><text class="tn" x="790" y="679">WH</text></g>
<g id="R-SLS"><ellipse class="lv" cx="760" cy="704" rx="14.5" ry="21"/><text class="tn" x="760" y="737">SLS</text></g>
<g id="R-SC"><ellipse class="lv" cx="764" cy="788" rx="14.5" ry="21"/><text class="tn" x="764" y="821">SC</text></g>
<g id="R-EO"><ellipse class="lv" cx="801" cy="842" rx="14.5" ry="21"/><text class="tn" x="801" y="875">EO</text></g>
<g id="R-personal-demands"><ellipse class="lv" cx="920" cy="903" rx="14.5" ry="21"/><text class="tn" x="918" y="937">personal demands</text></g>
<g id="R-transformational-leadership"><ellipse class="lv" cx="1096" cy="753" rx="14.5" ry="21"/><text class="tw" x="1096" y="755">0.0</text><text class="tn" x="1098" y="780">transformational leadership</text></g>
<g id="R-II"><ellipse class="lv" cx="1168" cy="737" rx="14.5" ry="21"/><text class="tn" x="1168" y="770">II</text></g>
<g id="R-IM"><ellipse class="lv" cx="1168" cy="829" rx="14.5" ry="21"/><text class="tn" x="1168" y="862">IM</text></g>
<g id="R-IC"><ellipse class="lv" cx="1070" cy="903" rx="14.5" ry="21"/><text class="tn" x="1070" y="936">IC</text></g>
<g id="R-IS"><ellipse class="lv" cx="1144" cy="903" rx="14.5" ry="21"/><text class="tn" x="1144" y="936">IS</text></g>

<!-- right indicators -->
<g id="R-PR4"><rect class="ib" x="818" y="103" width="30" height="14"/><text class="tb" x="833" y="112">PR4</text></g>
<g id="R-PR5"><rect class="ib" x="818" y="129" width="30" height="14"/><text class="tb" x="833" y="138">PR5</text></g>
<g id="R-PR7"><rect class="ib" x="818" y="155" width="30" height="14"/><text class="tb" x="833" y="164">PR7</text></g>
<g id="R-PR11"><rect class="ib" x="843" y="63" width="30" height="14"/><text class="tb" x="858" y="72">PR11</text></g>
<g id="R-PR12"><rect class="ib" x="880" y="20" width="29" height="14"/><text class="tb" x="894" y="29">PR12</text></g>
<g id="R-PR6"><rect class="ib" x="919" y="8" width="29" height="15"/><text class="tb" x="933" y="17.5">PR6</text></g>
<g id="R-PR9"><rect class="ib" x="956" y="8" width="29" height="15"/><text class="tb" x="970" y="17.5">PR9</text></g>
<g id="R-PR2"><rect class="ib" x="993" y="15" width="29" height="15"/><text class="tb" x="1007" y="24.5">PR2</text></g>
<g id="R-PR1"><rect class="ib" x="1026" y="23" width="30" height="14"/><text class="tb" x="1041" y="32">PR1</text></g>
<g id="R-PR13"><rect class="ib" x="1091" y="44" width="29" height="14"/><text class="tb" x="1105" y="53">PR13</text></g>
<g id="R-PR14"><rect class="ib" x="1091" y="71" width="29" height="14"/><text class="tb" x="1105" y="80">PR14</text></g>
<g id="R-PR15"><rect class="ib" x="1091" y="99" width="29" height="14"/><text class="tb" x="1105" y="108">PR15</text></g>
<g id="R-MW1"><rect class="ib" x="1123" y="145" width="29" height="14"/><text class="tb" x="1137" y="154">MW1</text></g>
<g id="R-MW2"><rect class="ib" x="1162" y="145" width="29" height="14"/><text class="tb" x="1176" y="154">MW2</text></g>
<g id="R-MW4"><rect class="ib" x="1200" y="145" width="29" height="14"/><text class="tb" x="1214" y="154">MW4</text></g>
<g id="R-MW5"><rect class="ib" x="1268" y="238" width="30" height="14"/><text class="tb" x="1283" y="247">MW5</text></g>
<g id="R-MW7"><rect class="ib" x="1268" y="263" width="30" height="14"/><text class="tb" x="1283" y="272">MW7</text></g>
<g id="R-MW10"><rect class="ib" x="1259" y="314" width="31" height="14"/><text class="tb" x="1274" y="323">MW10</text></g>
<g id="R-MW9"><rect class="ib" x="1259" y="341" width="31" height="14"/><text class="tb" x="1274" y="350">MW9</text></g>
<g id="R-WE1"><rect class="ib" x="1253" y="448" width="29" height="14"/><text class="tb" x="1267" y="457">WE1</text></g>
<g id="R-WE2"><rect class="ib" x="1253" y="473" width="29" height="14"/><text class="tb" x="1267" y="482">WE2</text></g>
<g id="R-WE3"><rect class="ib" x="1253" y="521" width="29" height="14"/><text class="tb" x="1267" y="530">WE3</text></g>
<g id="R-WE4"><rect class="ib" x="1253" y="548" width="29" height="14"/><text class="tb" x="1267" y="557">WE4</text></g>
<g id="R-WE7"><rect class="ib" x="1253" y="573" width="29" height="14"/><text class="tb" x="1267" y="582">WE7</text></g>
<g id="R-WE8"><rect class="ib" x="1253" y="628" width="29" height="14"/><text class="tb" x="1267" y="637">WE8</text></g>
<g id="R-WE9"><rect class="ib" x="1253" y="654" width="29" height="14"/><text class="tb" x="1267" y="663">WE9</text></g>
<g id="R-JR10"><rect class="ib" x="683" y="256" width="30" height="14"/><text class="tb" x="698" y="265">JR10</text></g>
<g id="R-JR7"><rect class="ib" x="683" y="283" width="30" height="14"/><text class="tb" x="698" y="292">JR7</text></g>
<g id="R-JR8"><rect class="ib" x="683" y="310" width="30" height="14"/><text class="tb" x="698" y="319">JR8</text></g>
<g id="R-JR4"><rect class="ib" x="758" y="192" width="29" height="14"/><text class="tb" x="772" y="201">JR4</text></g>
<g id="R-JR5"><rect class="ib" x="797" y="192" width="29" height="14"/><text class="tb" x="811" y="201">JR5</text></g>
<g id="R-JR1"><rect class="ib" x="834" y="192" width="29" height="14"/><text class="tb" x="848" y="201">JR1</text></g>
<g id="R-JR2"><rect class="ib" x="873" y="192" width="29" height="14"/><text class="tb" x="887" y="201">JR2</text></g>
<g id="R-JR3"><rect class="ib" x="910" y="192" width="29" height="14"/><text class="tb" x="924" y="201">JR3</text></g>
<g id="R-JR11"><rect class="ib" x="688" y="355" width="30" height="14"/><text class="tb" x="703" y="364">JR11</text></g>
<g id="R-JR12"><rect class="ib" x="688" y="382" width="30" height="14"/><text class="tb" x="703" y="391">JR12</text></g>
<g id="R-JR13"><rect class="ib" x="688" y="409" width="30" height="14"/><text class="tb" x="703" y="418">JR13</text></g>
<g id="R-JR14"><rect class="ib" x="688" y="435" width="30" height="14"/><text class="tb" x="703" y="444">JR14</text></g>
<g id="R-JR16"><rect class="ib" x="731" y="512" width="29" height="14"/><text class="tb" x="745" y="521">JR16</text></g>
<g id="R-JR17"><rect class="ib" x="768" y="512" width="29" height="14"/><text class="tb" x="782" y="521">JR17</text></g>
<g id="R-JR18"><rect class="ib" x="805" y="512" width="29" height="14"/><text class="tb" x="819" y="521">JR18</text></g>
<g id="R-JR19"><rect class="ib" x="843" y="512" width="29" height="14"/><text class="tb" x="857" y="521">JR19</text></g>
<g id="R-JD16"><rect class="ib" x="738" y="572" width="29" height="14"/><text class="tb" x="752" y="581">JD16</text></g>
<g id="R-JD15"><rect class="ib" x="776" y="572" width="29" height="14"/><text class="tb" x="790" y="581">JD15</text></g>
<g id="R-JD17"><rect class="ib" x="813" y="572" width="29" height="14"/><text class="tb" x="827" y="581">JD17</text></g>
<g id="R-JD4"><rect class="ib" x="691" y="686" width="29" height="14"/><text class="tb" x="705" y="695">JD4</text></g>
<g id="R-JD5"><rect class="ib" x="691" y="713" width="29" height="14"/><text class="tb" x="705" y="722">JD5</text></g>
<g id="R-JD7"><rect class="ib" x="694" y="769" width="29" height="14"/><text class="tb" x="708" y="778">JD7</text></g>
<g id="R-JD8"><rect class="ib" x="694" y="796" width="29" height="14"/><text class="tb" x="708" y="805">JD8</text></g>
<g id="R-JD9"><rect class="ib" x="694" y="823" width="29" height="14"/><text class="tb" x="708" y="832">JD9</text></g>
<g id="R-JD10"><rect class="ib" x="750" y="903" width="29" height="14"/><text class="tb" x="764" y="912">JD10</text></g>
<g id="R-JD11"><rect class="ib" x="788" y="903" width="29" height="14"/><text class="tb" x="802" y="912">JD11</text></g>
<g id="R-JD12"><rect class="ib" x="826" y="903" width="29" height="14"/><text class="tb" x="840" y="912">JD12</text></g>
<g id="R-PD1"><rect class="ib" x="809" y="963" width="27" height="15"/><text class="tb" x="822" y="972.5">PD1</text></g>
<g id="R-PD2"><rect class="ib" x="850" y="963" width="27" height="15"/><text class="tb" x="863" y="972.5">PD2</text></g>
<g id="R-PD3"><rect class="ib" x="886" y="963" width="28" height="15"/><text class="tb" x="900" y="972.5">PD3</text></g>
<g id="R-PD4"><rect class="ib" x="922" y="963" width="28" height="15"/><text class="tb" x="936" y="972.5">PD4</text></g>
<g id="R-PD6"><rect class="ib" x="960" y="963" width="27" height="15"/><text class="tb" x="973" y="972.5">PD6</text></g>
<g id="R-PD7"><rect class="ib" x="997" y="963" width="27" height="15"/><text class="tb" x="1010" y="972.5">PD7</text></g>
<g id="R-TL10"><rect class="ib" x="1039" y="963" width="27" height="15"/><text class="tb" x="1052" y="972.5">TL10</text></g>
<g id="R-TL9"><rect class="ib" x="1075" y="963" width="27" height="15"/><text class="tb" x="1088" y="972.5">TL9</text></g>
<g id="R-TL7"><rect class="ib" x="1112" y="963" width="26" height="15"/><text class="tb" x="1125" y="972.5">TL7</text></g>
<g id="R-TL8"><rect class="ib" x="1149" y="963" width="27" height="15"/><text class="tb" x="1162" y="972.5">TL8</text></g>
<g id="R-TL1"><rect class="ib" x="1211" y="691" width="28" height="14"/><text class="tb" x="1225" y="700">TL1</text></g>
<g id="R-TL2"><rect class="ib" x="1211" y="718" width="28" height="14"/><text class="tb" x="1225" y="727">TL2</text></g>
<g id="R-TL3"><rect class="ib" x="1211" y="744" width="28" height="14"/><text class="tb" x="1225" y="753">TL3</text></g>
<g id="R-TL4"><rect class="ib" x="1211" y="771" width="28" height="14"/><text class="tb" x="1225" y="780">TL4</text></g>
<g id="R-TL5"><rect class="ib" x="1211" y="809" width="28" height="14"/><text class="tb" x="1225" y="818">TL5</text></g>
<g id="R-TL6"><rect class="ib" x="1211" y="836" width="28" height="14"/><text class="tb" x="1225" y="845">TL6</text></g>
</svg>
